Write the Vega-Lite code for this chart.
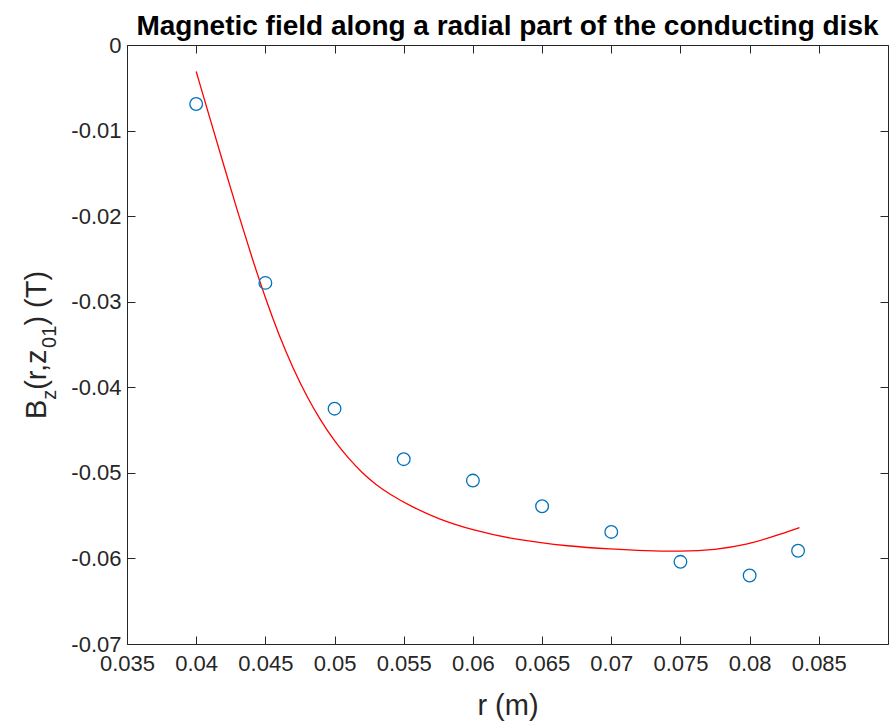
{
  "$schema": "https://vega.github.io/schema/vega-lite/v6.json",
  "width": 761,
  "height": 599,
  "autosize": {"type": "none"},
  "padding": {"left": 127, "top": 45, "right": 1, "bottom": 79},
  "background": "white",
  "title": {
    "text": "Magnetic field along a radial part of the conducting disk",
    "font": "Liberation Sans",
    "fontSize": 28,
    "fontWeight": "bold",
    "color": "#000000",
    "anchor": "middle",
    "offset": -7
  },
  "config": {
    "view": {"stroke": null},
    "locale": {
      "number": {"decimal": ".", "thousands": ",", "grouping": [3], "currency": ["$", ""], "minus": "-"}
    },
    "axis": {
      "grid": false,
      "domainColor": "#262626",
      "domainWidth": 1,
      "tickColor": "#262626",
      "tickWidth": 1,
      "labelColor": "#262626",
      "labelFont": "Liberation Sans",
      "labelFontSize": 22,
      "titleColor": "#262626",
      "titleFont": "Liberation Sans",
      "titleFontWeight": "normal"
    }
  },
  "datasets": {
    "measured": [
      {"r": 0.04, "Bz": -0.0069},
      {"r": 0.045, "Bz": -0.0278},
      {"r": 0.05, "Bz": -0.0425},
      {"r": 0.055, "Bz": -0.0484},
      {"r": 0.06, "Bz": -0.0509},
      {"r": 0.065, "Bz": -0.0539},
      {"r": 0.07, "Bz": -0.0569},
      {"r": 0.075, "Bz": -0.0604},
      {"r": 0.08, "Bz": -0.062},
      {"r": 0.0835, "Bz": -0.0591}
    ],
    "model": [
      {"r": 0.04, "Bz": -0.0031},
      {"r": 0.041, "Bz": -0.0086},
      {"r": 0.042, "Bz": -0.0141},
      {"r": 0.043, "Bz": -0.0195},
      {"r": 0.044, "Bz": -0.0247},
      {"r": 0.045, "Bz": -0.0296},
      {"r": 0.046, "Bz": -0.034},
      {"r": 0.047, "Bz": -0.0378},
      {"r": 0.048, "Bz": -0.0411},
      {"r": 0.049, "Bz": -0.0439},
      {"r": 0.05, "Bz": -0.0463},
      {"r": 0.051, "Bz": -0.0483},
      {"r": 0.052, "Bz": -0.05},
      {"r": 0.053, "Bz": -0.0514},
      {"r": 0.054, "Bz": -0.0525},
      {"r": 0.0555, "Bz": -0.0539},
      {"r": 0.0575, "Bz": -0.0554},
      {"r": 0.06, "Bz": -0.0567},
      {"r": 0.063, "Bz": -0.0578},
      {"r": 0.067, "Bz": -0.0586},
      {"r": 0.07, "Bz": -0.0589},
      {"r": 0.0725, "Bz": -0.0591},
      {"r": 0.075, "Bz": -0.0592},
      {"r": 0.0775, "Bz": -0.059},
      {"r": 0.0798, "Bz": -0.0584},
      {"r": 0.0818, "Bz": -0.0574},
      {"r": 0.0836, "Bz": -0.0564}
    ]
  },
  "layer": [
    {
      "data": {"name": "model"},
      "mark": {"type": "line", "color": "#FF0000", "strokeWidth": 1.3, "interpolate": "basis", "clip": true},
      "encoding": {
        "x": {
          "field": "r", "type": "quantitative",
          "scale": {"domain": [0.035, 0.09], "nice": false, "zero": false},
          "axis": {
            "orient": "bottom",
            "values": [0.035, 0.04, 0.045, 0.05, 0.055, 0.06, 0.065, 0.07, 0.075, 0.08, 0.085],
            "format": ".3~f",
            "tickSize": -8,
            "labelPadding": 17,
            "labelFlush": false,
            "labelOverlap": false,
            "title": "r (m)",
            "titleFontSize": 29,
            "titleBaseline": "alphabetic",
            "titleY": 70
          }
        },
        "y": {
          "field": "Bz", "type": "quantitative",
          "scale": {"domain": [-0.07, 0], "nice": false, "zero": false},
          "axis": {
            "orient": "left",
            "values": [-0.07, -0.06, -0.05, -0.04, -0.03, -0.02, -0.01, 0],
            "format": ".2~f",
            "tickSize": -8,
            "labelPadding": 14,
            "labelFlush": false,
            "labelOverlap": false,
            "title": "B",
            "titleFontSize": 29,
            "titleAngle": -90,
            "titleAlign": "left",
            "titleBaseline": "alphabetic",
            "titleX": -82,
            "titleY": 373.6
          }
        }
      }
    },
    {
      "data": {"name": "measured"},
      "mark": {"type": "point", "shape": "circle", "filled": false, "color": "#0072BD", "strokeWidth": 1.3, "size": 160, "opacity": 1},
      "encoding": {
        "x": {
          "field": "r", "type": "quantitative",
          "axis": {
            "orient": "top",
            "values": [0.035, 0.04, 0.045, 0.05, 0.055, 0.06, 0.065, 0.07, 0.075, 0.08, 0.085],
            "tickSize": -8, "labels": false, "title": null
          }
        },
        "y": {
          "field": "Bz", "type": "quantitative",
          "axis": {
            "orient": "right",
            "values": [-0.07, -0.06, -0.05, -0.04, -0.03, -0.02, -0.01, 0],
            "tickSize": -8, "labels": false, "title": null
          }
        }
      }
    },
    {
      "data": {"name": "measured"},
      "mark": {"type": "point", "opacity": 0},
      "encoding": {
        "x": {"field": "r", "type": "quantitative", "axis": null},
        "y": {
          "field": "Bz", "type": "quantitative",
          "axis": {"orient": "left", "domain": false, "ticks": false, "labels": false,
            "title": "z", "titleFontSize": 20, "titleAngle": -90, "titleAlign": "left", "titleBaseline": "alphabetic",
            "titleX": -72, "titleY": 354.3}
        }
      }
    },
    {
      "data": {"name": "measured"},
      "mark": {"type": "point", "opacity": 0},
      "encoding": {
        "x": {"field": "r", "type": "quantitative", "axis": null},
        "y": {
          "field": "Bz", "type": "quantitative",
          "axis": {"orient": "left", "domain": false, "ticks": false, "labels": false,
            "title": "(r,z", "titleFontSize": 29, "titleAngle": -90, "titleAlign": "left", "titleBaseline": "alphabetic",
            "titleX": -82, "titleY": 344.3}
        }
      }
    },
    {
      "data": {"name": "measured"},
      "mark": {"type": "point", "opacity": 0},
      "encoding": {
        "x": {"field": "r", "type": "quantitative", "axis": null},
        "y": {
          "field": "Bz", "type": "quantitative",
          "axis": {"orient": "left", "domain": false, "ticks": false, "labels": false,
            "title": "01", "titleFontSize": 20, "titleAngle": -90, "titleAlign": "left", "titleBaseline": "alphabetic",
            "titleX": -72, "titleY": 302.4}
        }
      }
    },
    {
      "data": {"name": "measured"},
      "mark": {"type": "point", "opacity": 0},
      "encoding": {
        "x": {"field": "r", "type": "quantitative", "axis": null},
        "y": {
          "field": "Bz", "type": "quantitative",
          "axis": {"orient": "left", "domain": false, "ticks": false, "labels": false,
            "title": ") (T)", "titleFontSize": 29, "titleAngle": -90, "titleAlign": "left", "titleBaseline": "alphabetic",
            "titleX": -82, "titleY": 280.1}
        }
      }
    }
  ],
  "resolve": {"axis": {"x": "independent", "y": "independent"}}
}
